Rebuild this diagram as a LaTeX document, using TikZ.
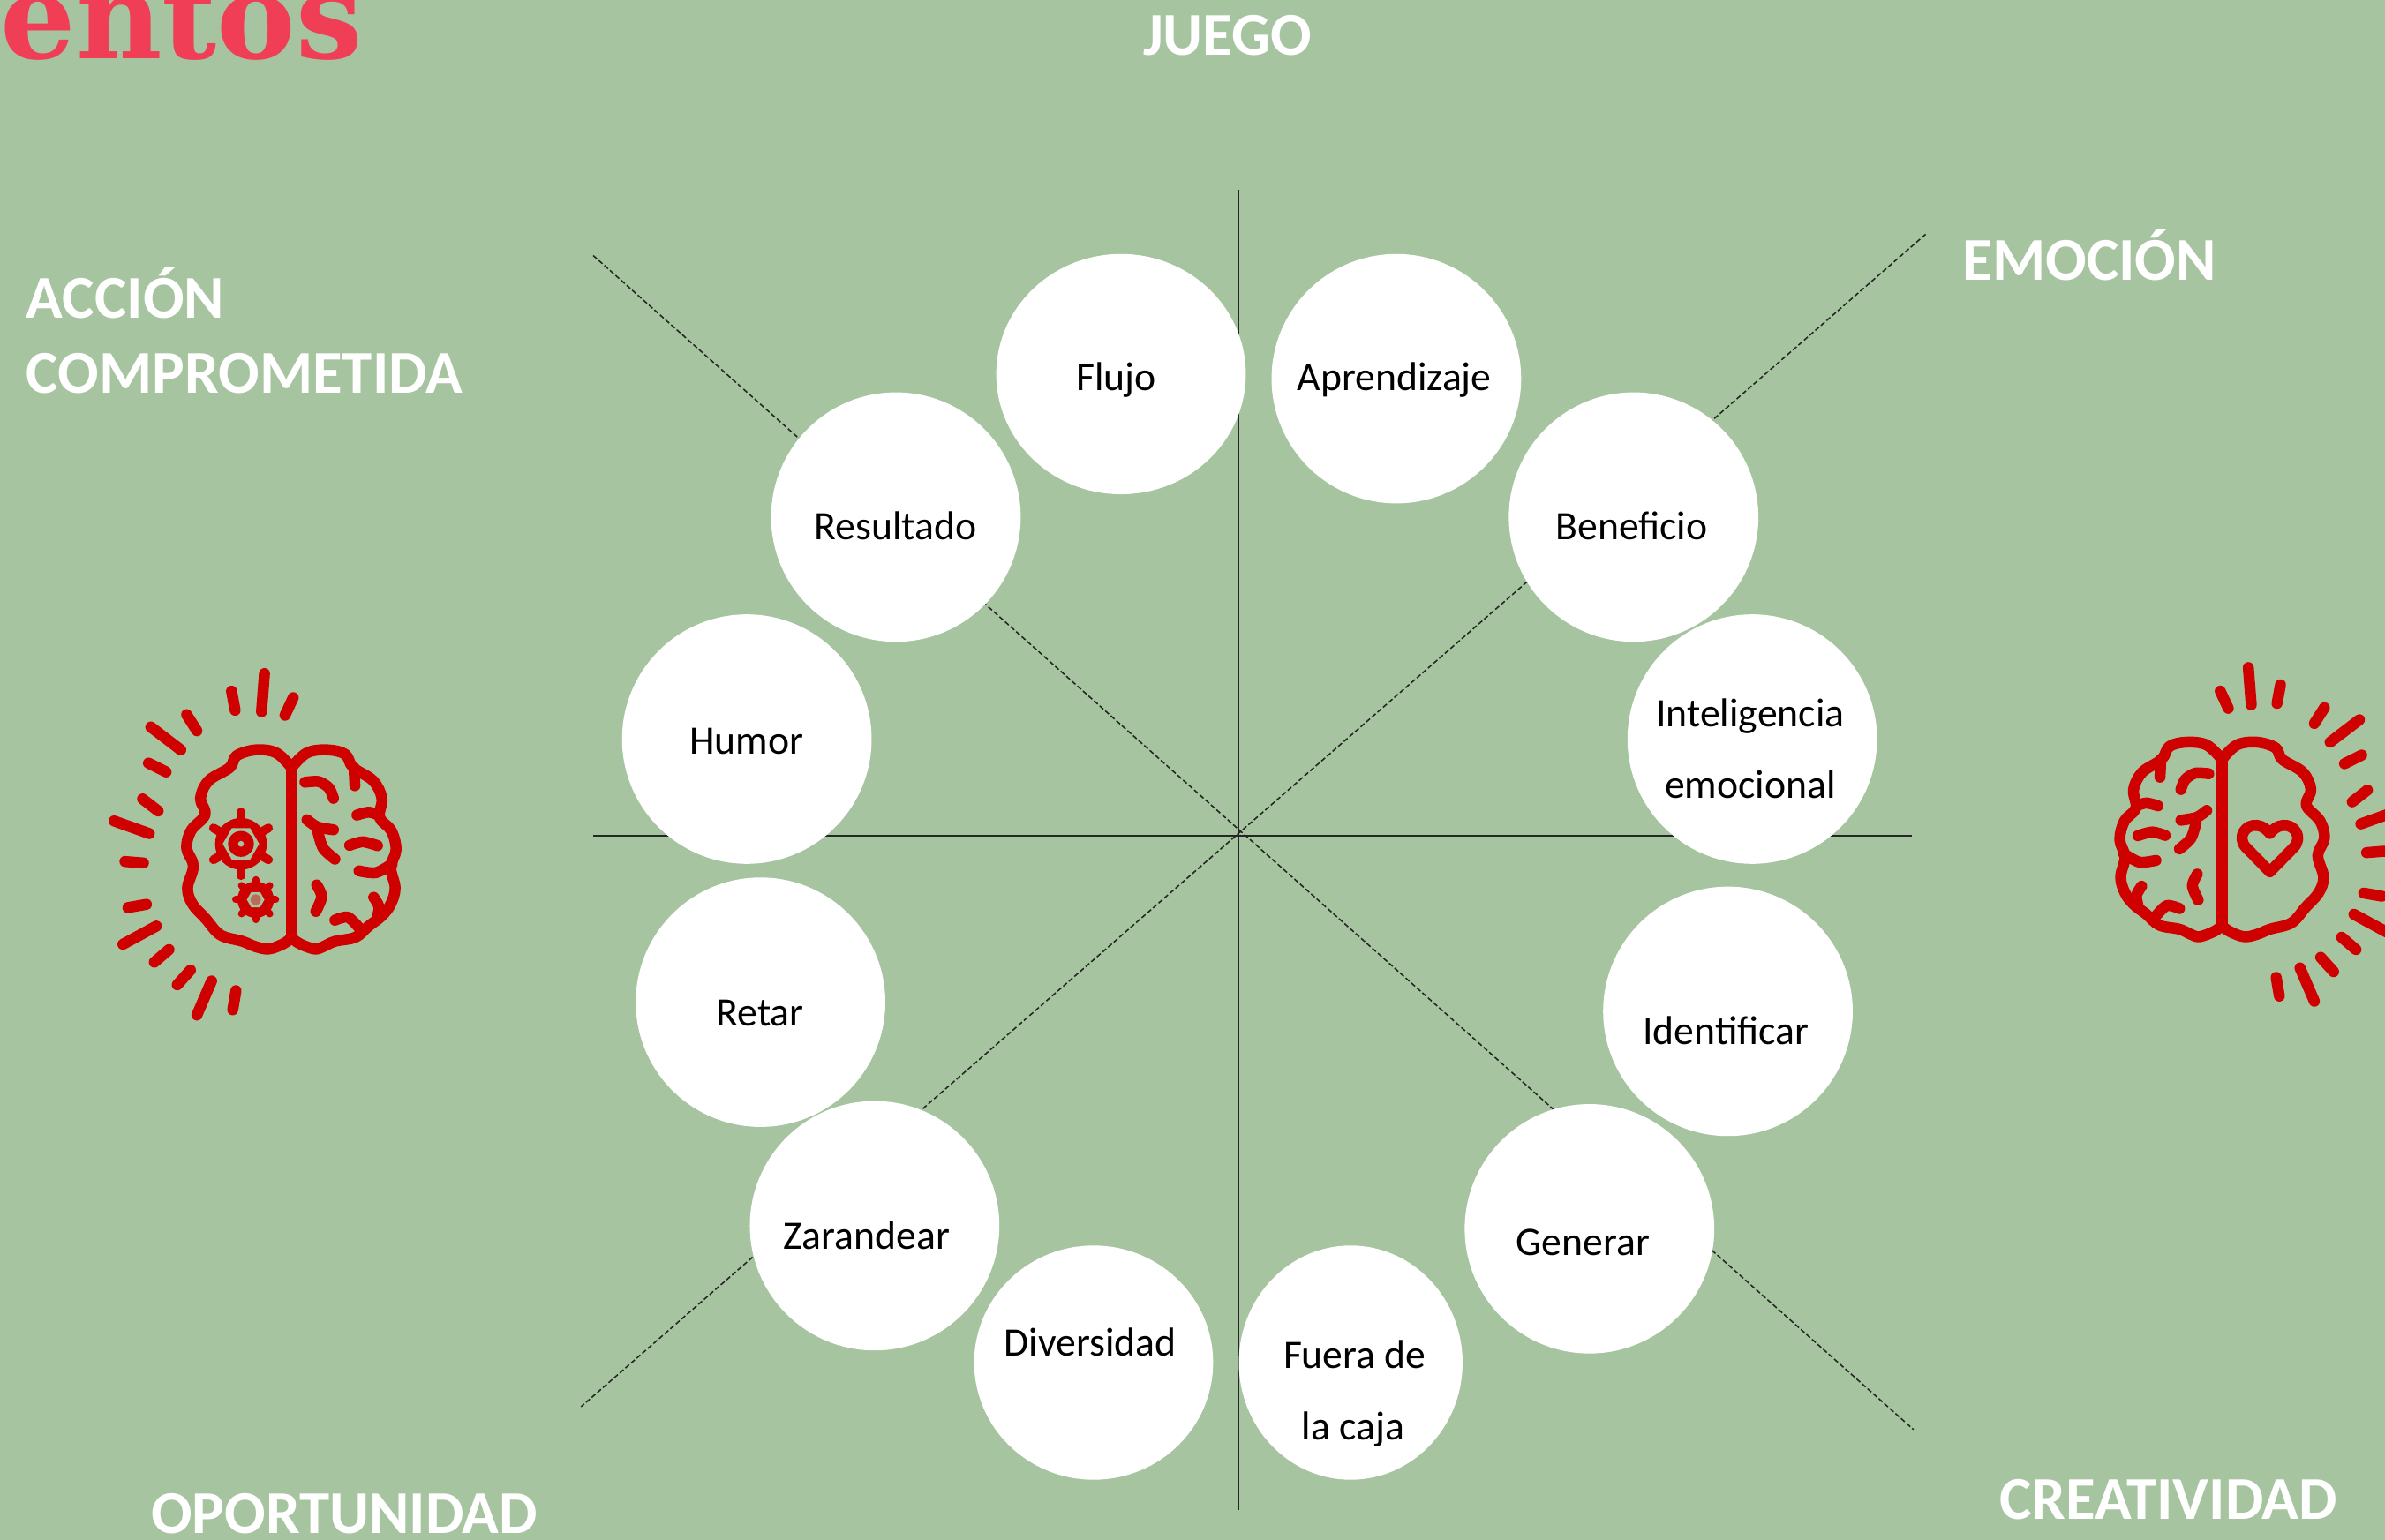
\documentclass[tikz,border=0pt]{standalone}
\usepackage{fontspec}
\setmainfont{Carlito}
\newfontfamily\slabfont{DejaVu Serif}
\usetikzlibrary{shapes.geometric}
\definecolor{bgreen}{HTML}{A7C4A0}
\definecolor{brainred}{HTML}{CF0000}
\definecolor{titlered}{HTML}{EF3E56}
\tikzset{
  bub/.style={ellipse,fill=white,inner sep=0pt,outer sep=0pt,minimum width=#1*0.034464cm},
  lbl/.style={anchor=base,inner sep=0pt,font=\fontsize{13}{15}\selectfont,text=black,xshift=0.012cm,yshift=-0.012cm},
  ttl/.style={anchor=base west,inner sep=0pt,font=\fontsize{19.6}{23}\selectfont\bfseries,text=white},
  axisline/.style={line width=0.5pt,draw=black!85},
  diag/.style={line width=0.45pt,draw=black!85,dash pattern=on 1.6pt off 0.8pt},
  brainline/.style={draw=brainred,line width=0.125cm,line cap=round,line join=round}
}
\newcommand{\brainbase}{%
  \draw[brainline] plot[smooth,tension=.6] coordinates {(722,420) (670,370) (600,360) (535,380) (512,420) (440,465) (412,525) (428,580) (380,635) (365,695) (388,755) (368,830) (385,885) (430,935) (480,990) (555,1012) (600,1030) (645,1038) (695,1020) (722,1000)};
  \draw[brainline] plot[smooth,tension=.6] coordinates {(722,420) (775,370) (845,360) (905,375) (932,420) (1000,465) (1030,525) (1022,590) (1062,635) (1078,700) (1060,760) (1075,830) (1060,885) (1030,925) (985,960) (940,998) (870,1012) (830,1030) (800,1038) (750,1020) (722,1000)};
  \draw[brainline] (722,420) -- (722,1000);
  \draw[brainline] (935,420) -- (938,482);
  \draw[brainline] plot[smooth] coordinates {(768,470) (815,468) (850,490) (865,525)};
  \draw[brainline] plot[smooth] coordinates {(775,598) (810,622) (865,632)};
  \draw[brainline] plot[smooth] coordinates {(812,640) (830,695) (870,732)};
  \draw[brainline] plot[smooth] coordinates {(920,685) (965,673) (1015,686)};
  \draw[brainline] plot[smooth] coordinates {(945,582) (985,572) (1020,582)};
  \draw[brainline] plot[smooth] coordinates {(952,772) (1010,778) (1065,748)};
  \draw[brainline] plot[smooth] coordinates {(808,820) (825,860) (805,910)};
  \draw[brainline] plot[smooth] coordinates {(1002,862) (1020,895) (1012,940)};
  \draw[brainline] plot[smooth] coordinates {(870,940) (915,930) (960,975)};
  \foreach \a/\b/\c/\d in {630/100/620/230,518/160/530/225,728/182/700/242,365/240/400/295,243/282/345/360,235/405/295/435,215/527/268/568,118/602/238/645,155/740/218/745,165/897/228/886,148/1022/262/960,255/1083/305/1040,333/1160/378/1110,400/1263/450/1147,522/1245/533/1180}
    \draw[brainline] (\a,\b) -- (\c,\d);
}
\begin{document}
\begin{tikzpicture}[x=0.017232cm,y=-0.017232cm]
\useasboundingbox (0,0) rectangle (1568,1012.6);
\clip (0,0) rectangle (1568,1012.6);
\fill[bgreen] (0,0) rectangle (1568,1012.6);

% axes
\coordinate (vt) at (814,125); \coordinate (vb) at (814,993);
\coordinate (hl) at (390,549.5); \coordinate (hr) at (1257,549.5);
\coordinate (d1a) at (390,168); \coordinate (d1b) at (1258,940);
\coordinate (d2a) at (1266,154); \coordinate (d2b) at (382,925);
\draw[axisline] (vt) -- (vb);
\draw[axisline] (hl) -- (hr);
\draw[diag] (d1a) -- (d1b);
\draw[diag] (d2a) -- (d2b);

% bubbles
\node[bub=82,minimum height=158*0.017232cm] (c1) at (737,246) {};
\node[bub=82,minimum height=164*0.017232cm] (c2) at (918,249) {};
\node[bub=82,minimum height=164*0.017232cm] (c3) at (1074,340) {};
\node[bub=82,minimum height=164*0.017232cm] (c4) at (1152,486) {};
\node[bub=82,minimum height=164*0.017232cm] (c5) at (1136,665) {};
\node[bub=82,minimum height=164*0.017232cm] (c6) at (1045,808) {};
\node[bub=73.5,minimum height=154*0.017232cm] (c7) at (888,896) {};
\node[bub=78.5,minimum height=154*0.017232cm] (c8) at (719,896) {};
\node[bub=82,minimum height=164*0.017232cm] (c9) at (575,806) {};
\node[bub=82,minimum height=164*0.017232cm] (c10) at (500,659) {};
\node[bub=82,minimum height=164*0.017232cm] (c11) at (491,486) {};
\node[bub=82,minimum height=164*0.017232cm] (c12) at (589,340) {};

% bubble labels
\node[lbl] (t1) at (733,256) {Flujo};
\node[lbl] (t2) at (916,256) {Aprendizaje};
\node[lbl] (t3) at (1072,354) {Beneficio};
\node[lbl] (t4a) at (1150,477) {Inteligencia};
\node[lbl] (t4b) at (1150,524) {emocional};
\node[lbl] (t5) at (1134,686) {Identificar};
\node[lbl] (t6) at (1040,825) {Generar};
\node[lbl] (t7a) at (890,899) {Fuera de};
\node[lbl] (t7b) at (889,946) {la caja};
\node[lbl] (t8) at (716,891) {Diversidad};
\node[lbl] (t9) at (569,821) {Zarandear};
\node[lbl] (t10) at (499,674) {Retar};
\node[lbl] (t11) at (490,495) {Humor};
\node[lbl] (t12) at (588,354) {Resultado};

% titles
\node[ttl,anchor=base] (juego) at (807,36.5) {JUEGO};
\node[ttl] (acc1) at (17,209) {ACCIÓN};
\node[ttl] (acc2) at (17,258.5) {COMPROMETIDA};
\node[ttl] (emo) at (1290,184) {EMOCIÓN};
\node[ttl] (opo) at (99,1008.5) {OPORTUNIDAD};
\node[ttl] (cre) at (1314,999) {CREATIVIDAD};
\node[anchor=base west,inner sep=0pt,text=titlered,font=\fontsize{38.2}{42}\selectfont\slabfont\bfseries] (ent) at (0,38.5) {entos};

% left brain
\begin{scope}[shift={(52.23,423.6)},x=0.0033333cm,y=-0.0033333cm]
  \brainbase
  \fill[brainred] (550,680) circle[radius=88];
  \foreach \ang in {30,90,150,210,270,330}
    \draw[draw=brainred,line width=0.1cm,line cap=round] (550,680) -- ++(\ang:108);
  \fill[bgreen,shift={(550,680)}] (0:62) -- (60:62) -- (120:62) -- (180:62) -- (240:62) -- (300:62) -- cycle;
  \fill[brainred] (550,680) circle[radius=44];
  \fill[bgreen] (550,680) circle[radius=10];
  \fill[brainred] (600,870) circle[radius=62];
  \foreach \ang in {0,45,...,315}
    \draw[draw=brainred,line width=0.08cm,line cap=round] (600,870) -- ++(\ang+90:68);
  \fill[bgreen,shift={(600,870)}] (0:30) -- (60:30) -- (120:30) -- (180:30) -- (240:30) -- (300:30) -- cycle;
  \fill[brainred!45!bgreen] (600,870) circle[radius=18];
\end{scope}

% right brain
\begin{scope}[shift={(1597.0,420.1)},x=-0.00325cm,y=-0.00325cm]
  \brainbase
  \draw[brainline] (555,812) -- (640,725) .. controls (670,690) and (640,645) .. (600,650) .. controls (580,652) and (565,665) .. (555,678) .. controls (545,665) and (530,652) .. (510,650) .. controls (470,645) and (440,690) .. (470,725) -- cycle;
\end{scope}
\end{tikzpicture}
\end{document}
